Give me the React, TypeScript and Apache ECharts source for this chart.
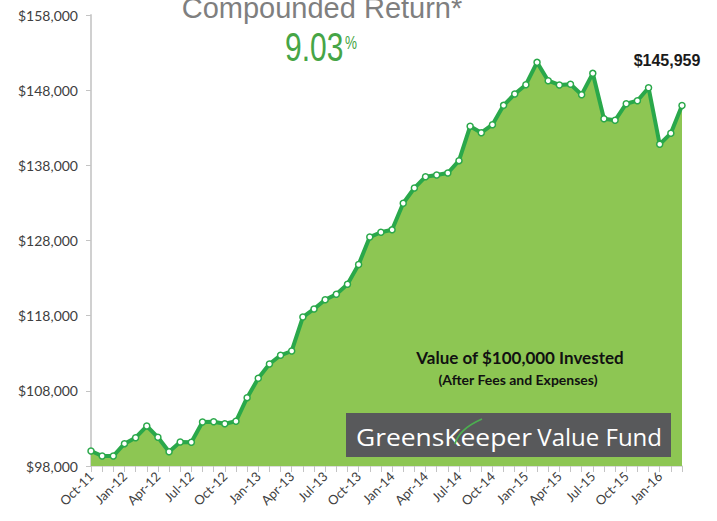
import React, { useEffect, useRef } from "react";
import * as echarts from "echarts";

const months = [
  "Oct-11", "Nov-11", "Dec-11", "Jan-12", "Feb-12", "Mar-12", "Apr-12", "May-12", "Jun-12",
  "Jul-12", "Aug-12", "Sep-12", "Oct-12", "Nov-12", "Dec-12", "Jan-13", "Feb-13", "Mar-13",
  "Apr-13", "May-13", "Jun-13", "Jul-13", "Aug-13", "Sep-13", "Oct-13", "Nov-13", "Dec-13",
  "Jan-14", "Feb-14", "Mar-14", "Apr-14", "May-14", "Jun-14", "Jul-14", "Aug-14", "Sep-14",
  "Oct-14", "Nov-14", "Dec-14", "Jan-15", "Feb-15", "Mar-15", "Apr-15", "May-15", "Jun-15",
  "Jul-15", "Aug-15", "Sep-15", "Oct-15", "Nov-15", "Dec-15", "Jan-16", "Feb-16", "Mar-16",
];

const fundValues = [
  100000, 99330, 99330, 100970, 101760, 103320, 101820, 99900, 101190, 101150,
  103850, 103890, 103630, 103950, 107090, 109670, 111570, 112730, 113300, 117820,
  118890, 120120, 120840, 122170, 124810, 128460, 129100, 129420, 132950, 134980,
  136490, 136710, 136980, 138620, 143190, 142340, 143400, 145980, 147490, 148730,
  151700, 149260, 148690, 148780, 147400, 150240, 144200, 143990, 146200, 146600,
  148330, 140800, 142260, 145959,
];

const yTicks = [98000, 108000, 118000, 128000, 138000, 148000, 158000];

const titleText = "Compounded Return*";
const returnText = "9.03";
const endValueText = "$145,959";
const noteLine1 = "Value of $100,000 Invested";
const noteLine2 = "(After Fees and Expenses)";

export default function App() {
  const ref = useRef<HTMLDivElement>(null);

  useEffect(() => {
    if (!ref.current) return;
    const chart = echarts.init(ref.current, null, { renderer: "svg" });
    const fmt = (v: number) => "$" + Number(v).toLocaleString("en-US");
    const logoFont = "24px 'Open Sans'";
    chart.setOption({
      animation: false,
      backgroundColor: "#ffffff",
      grid: { left: 91, right: 35, top: 15, bottom: 55 },
      xAxis: {
        type: "category",
        data: months,
        boundaryGap: false,
        axisLine: { show: true, lineStyle: { color: "#d0d0d0", width: 1.5 } },
        axisTick: { show: true, interval: 0, length: 6, lineStyle: { color: "#c4c4c4" } },
        axisLabel: {
          interval: 2,
          rotate: 45,
          margin: 8,
          fontSize: 13,
          fontFamily: "Lato",
          color: "#404040",
        },
        splitLine: { show: false },
      },
      yAxis: {
        type: "value",
        min: 98000,
        max: 158000,
        axisLine: { show: true, lineStyle: { color: "#d0d0d0", width: 2 } },
        axisTick: { show: true, length: 5, customValues: yTicks, lineStyle: { color: "#c4c4c4" } },
        axisLabel: {
          customValues: yTicks,
          formatter: fmt,
          margin: 13,
          fontSize: 14,
          fontFamily: "Lato",
          color: "#404040",
        },
        splitLine: { show: false },
      },
      series: [
        {
          type: "line",
          data: fundValues,
          symbol: "circle",
          symbolSize: 6,
          showSymbol: true,
          lineStyle: { color: "#2aa84a", width: 4 },
          itemStyle: { color: "#ffffff", borderColor: "#2aa84a", borderWidth: 1.5 },
          areaStyle: { color: "#8dc653", opacity: 1 },
          z: 2,
        },
      ],
      graphic: [
        {
          type: "text",
          x: 322,
          y: 22,
          style: {
            text: titleText,
            fill: "#7f7f7f",
            font: "29px 'Liberation Sans'",
            align: "center",
            verticalAlign: "bottom",
          },
        },
        {
          type: "text",
          x: 285,
          y: 67,
          scaleX: 0.75,
          style: {
            text: returnText,
            fill: "#46a546",
            font: "40px 'Liberation Sans'",
            align: "left",
            verticalAlign: "bottom",
          },
        },
        {
          type: "text",
          x: 345,
          y: 52,
          scaleX: 0.75,
          style: {
            text: "%",
            fill: "#46a546",
            font: "18px 'Liberation Sans'",
            align: "left",
            verticalAlign: "bottom",
          },
        },
        {
          type: "text",
          x: 667,
          y: 60,
          style: {
            text: endValueText,
            fill: "#1a1a1a",
            font: "bold 16px 'Liberation Sans'",
            align: "center",
            verticalAlign: "middle",
          },
        },
        {
          type: "text",
          x: 520,
          y: 357,
          style: {
            text: noteLine1,
            fill: "#111111",
            font: "bold 17px Lato",
            align: "center",
            verticalAlign: "middle",
          },
          z: 10,
        },
        {
          type: "text",
          x: 518,
          y: 379,
          style: {
            text: noteLine2,
            fill: "#111111",
            font: "bold 14px Lato",
            align: "center",
            verticalAlign: "middle",
          },
          z: 10,
        },
        {
          type: "rect",
          shape: { x: 346, y: 413, width: 325, height: 44 },
          style: { fill: "#58595b" },
          z: 10,
        },
        {
          type: "text",
          x: 356,
          y: 436,
          scaleX: 1.1,
          style: {
            text: "GreensKeeper",
            fill: "#ffffff",
            font: logoFont,
            align: "left",
            verticalAlign: "middle",
          },
          z: 11,
        },
        {
          type: "text",
          x: 662,
          y: 436,
          style: {
            text: "Value Fund",
            fill: "#ffffff",
            font: logoFont,
            align: "right",
            verticalAlign: "middle",
          },
          z: 11,
        },
        {
          type: "bezierCurve",
          shape: { x1: 455, y1: 444, x2: 482, y2: 419, cpx1: 459, cpy1: 429 },
          style: { stroke: "#4caf50", lineWidth: 1.8, fill: null },
          z: 12,
        },
      ],
    });
    return () => chart.dispose();
  }, []);

  return (
    <div
      ref={ref}
      style={{ position: "fixed", left: 0, top: 0, width: 717, height: 521 }}
    />
  );
}
